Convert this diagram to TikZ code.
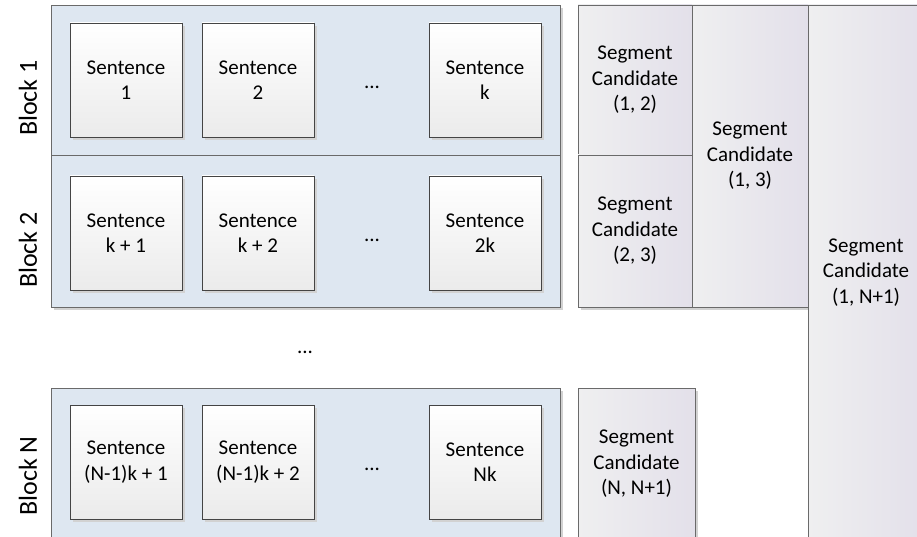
\documentclass[tikz,border=0pt]{standalone}
\usepackage{fontspec}
\setmainfont{Carlito}
\usetikzlibrary{shadows}
\definecolor{blockblue}{HTML}{DEE7F1}
\definecolor{linegray}{HTML}{6A6A6A}
\definecolor{boxline}{HTML}{444444}
\definecolor{sentbot}{HTML}{EBEBEB}
\definecolor{segleft}{HTML}{EFEFF0}
\definecolor{segright}{HTML}{E3E0EA}
\definecolor{shadowgray}{HTML}{D2D2D2}
\begin{document}
\begin{tikzpicture}[x=1pt,y=-1pt,
  shadowed/.style={drop shadow={shadow xshift=3pt,shadow yshift=-3pt,fill=shadowgray,opacity=1}},
  blockbox/.style={shadowed,draw=linegray,line width=0.9pt,fill=blockblue,
    minimum width=509pt,inner sep=0pt,outer sep=0pt},
  sentbox/.style={shadowed,draw=boxline,line width=0.9pt,top color=white,bottom color=sentbot,
    minimum width=112pt,minimum height=114pt,inner sep=0pt,align=center,
    font=\fontsize{21}{25.5}\selectfont},
  segbox/.style={shadowed,draw=linegray,line width=0.9pt,left color=segleft,right color=segright,
    inner sep=0pt,outer sep=0pt,align=center,font=\fontsize{21}{25.5}\selectfont},
  blocklabel/.style={rotate=90,font=\fontsize{26}{30}\selectfont,inner sep=0pt},
  dotslabel/.style={font=\fontsize{21}{25.5}\selectfont,inner sep=0pt}]
\useasboundingbox (0,0) rectangle (917,537);
\clip (0,0) rectangle (917,537);

% blocks of sentences
\node[blockbox,minimum height=150pt] (b1) at (305.5,80) {};
\node[blockbox,minimum height=152pt] (b2) at (305.5,231) {};
\node[blockbox,minimum height=152pt] (bN) at (305.5,464) {};

% block labels
\node[blocklabel] (l1) at (28,98) {Block 1};
\node[blocklabel] (l2) at (28,250) {Block 2};
\node[blocklabel] (lN) at (28,476) {Block N};

% sentences of block 1
\node[sentbox] (s11) at (126,80) {Sentence\\1};
\node[sentbox] (s12) at (258,80) {Sentence\\2};
\node[dotslabel] (d1) at (372,87) {...};
\node[sentbox] (s1k) at (485,80) {Sentence\\k};

% sentences of block 2
\node[sentbox] (s21) at (126,233) {Sentence\\k + 1};
\node[sentbox] (s22) at (258,233) {Sentence\\k + 2};
\node[dotslabel] (d2) at (372,240) {...};
\node[sentbox] (s2k) at (485,233) {Sentence\\2k};

% gap between block 2 and block N
\node[dotslabel] (dm) at (305,352) {...};

% sentences of block N
\node[sentbox] (sN1) at (126,462) {Sentence\\(N-1)k + 1};
\node[sentbox] (sN2) at (258,462) {Sentence\\(N-1)k + 2};
\node[dotslabel] (dN) at (372,469) {...};
\node[sentbox] (sNk) at (485,462) {Sentence\\Nk};

% segment candidates
\node[segbox,minimum width=114pt,minimum height=150pt] (c12) at (635,80) {Segment\\Candidate\\(1, 2)};
\node[segbox,minimum width=114pt,minimum height=152pt] (c23) at (635,231) {Segment\\Candidate\\(2, 3)};
\node[segbox,minimum width=116pt,minimum height=302pt] (c13) at (750,156) {Segment\\Candidate\\(1, 3)};
\node[segbox,minimum width=116pt,minimum height=535pt] (c1N) at (866,272.5) {Segment\\Candidate\\(1, N+1)};
\node[segbox,minimum width=117pt,minimum height=152pt] (cNN) at (636.5,464) {Segment\\Candidate\\(N, N+1)};
\end{tikzpicture}
\end{document}
